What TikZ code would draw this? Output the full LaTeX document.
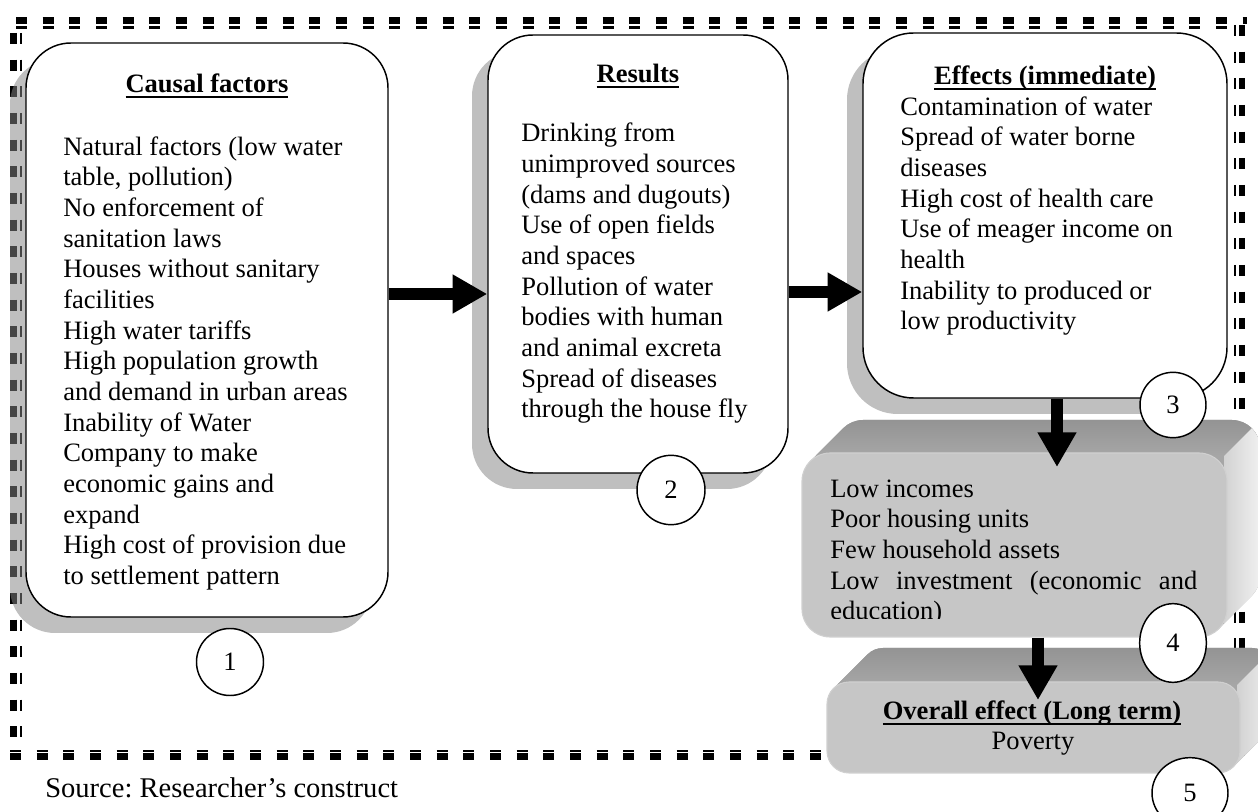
\documentclass[tikz,border=0pt]{standalone}
\usepackage{fontspec}
\setmainfont{Liberation Serif}
\usetikzlibrary{arrows.meta,fit,shapes.geometric,shadows}
\frenchspacing

\definecolor{shadowgray}{rgb}{0.52,0.52,0.52}
\definecolor{frontgray}{HTML}{C6C6C6}
\definecolor{frontedge}{HTML}{D0D0D0}
\definecolor{topdark}{HTML}{939393}
\definecolor{toplight}{HTML}{A6A6A6}
\definecolor{sidedark}{HTML}{D2D2D2}
\definecolor{sidelight}{HTML}{F2F2F2}

% heavy underline that ignores descenders
\newcommand\ulined[1]{\setbox0\hbox{#1}\rlap{\rule[-3.8pt]{\wd0}{1.9pt}}\box0}

% extruded faces (top and right) of a slab: x1 y1 x2 y2 radius(pt) depth(px)
\newcommand\slabfaces[6]{%
  \pgfmathsetmacro\rpx{#5/0.75}%
  \pgfmathsetmacro\px{#3-0.293*\rpx}%
  \pgfmathsetmacro\py{#2+0.293*\rpx}%
  \begin{scope}
    \clip[rounded corners=#5] \foreach \s in {0,...,#6} { (#1+\s,#2-\s) rectangle (#3+\s,#4-\s) };
    \fill[toplight] (#1-5,#2-#6-5) rectangle (#3+#6+5,#4+5);
    \shade[top color=topdark, bottom color=toplight] (#1-5,#2-#6-1) rectangle (#3+#6+5,#2+2);
    \clip (\px-300,\py+300) -- (\px+300,\py-300) -- (\px+300,\py+300) -- cycle;
    \shade[left color=sidedark, right color=sidelight] (#3-3,#2-#6-2) rectangle (#3+#6+2,#4+2);
  \end{scope}}

\begin{document}
\begin{tikzpicture}[x=0.75pt, y=-0.75pt,
  txt/.style={inner sep=0pt, align=left, font=\fontsize{19.9pt}{23pt}\selectfont},
  ttl/.style={inner sep=0pt, font=\fontsize{19.9pt}{23pt}\selectfont\bfseries},
  card/.style={draw=black, line width=1.1pt, fill=white, inner sep=0pt, rounded corners=#1,
    drop shadow={shadow xshift=-12pt, shadow yshift=-12pt, fill=shadowgray, opacity=0.52}},
  slab/.style={draw=frontedge, line width=0.8pt, fill=frontgray, inner sep=0pt, rounded corners=#1},
  numc/.style={ellipse, draw=black, line width=1.1pt, fill=white, inner sep=0pt,
    font=\fontsize{19.9pt}{23pt}\selectfont},
  bigarrow/.style={line width=8.6pt, -{Triangle[length=26pt, width=27.5pt]}},
  dashA/.style={line width=4.9pt, dash pattern=on 8.25pt off 11.75pt},
  dashB/.style={line width=1.9pt, dash pattern=on 8.25pt off 11.75pt}]

\useasboundingbox (0,0) rectangle (1258,812);

% double dashed frame (heavy outside, light inside)
\draw[dashA] (16,20.5) -- (1247,20.5);
\draw[dashB] (16,27.5) -- (1235,27.5);
\draw[dashA] (13.5,33) -- (13.5,760);
\draw[dashB] (21,33) -- (21,752);
\draw[dashA] (1242,25) -- (1242,760);
\draw[dashB] (1235,25) -- (1235,752);
\draw[dashA] (10,756.5) -- (1240,756.5);
\draw[dashB] (10,751) -- (1235,751);

% rounded cards
\node[card=33.75pt, fit={(26,43) (388,617)}] (b1) {};
\node[card=33.75pt, fit={(488,35) (788,473)}] (b2) {};
\node[card=38pt, fit={(863,33) (1227,398)}] (b3) {};

% multi-line texts are placed by the baseline of their last line
\node[ttl, anchor=base] (h1) at (207,93) {\ulined{Causal factors}};
\node[txt, anchor=base west] (t1) at (63,584.4) {Natural factors (low water\\table, pollution)\\No enforcement of\\sanitation laws\\Houses without sanitary\\facilities\\High water tariffs\\High population growth\\and demand in urban areas\\Inability of Water\\Company to make\\economic gains and\\expand\\High cost of provision due\\to settlement pattern};

\node[ttl, anchor=base] (h2) at (638,83) {\ulined{Results}};
\node[txt, anchor=base west] (t2) at (521,418) {Drinking from\\unimproved sources\\(dams and dugouts)\\Use of open fields\\and spaces\\Pollution of water\\bodies with human\\and animal excreta\\Spread of diseases\\through the house fly};

\node[ttl, anchor=base] (h3) at (1045,85) {\ulined{Effects (immediate)}};
\node[txt, anchor=base west] (t3) at (900,329.7) {Contamination of water\\Spread of water borne\\diseases\\High cost of health care\\Use of meager income on\\health\\Inability to produced or\\low productivity};

% bevelled slabs
\slabfaces{802}{453}{1227}{637}{21pt}{33}
\node[slab=21pt, fit={(802,453) (1227,637)}] (b4) {};
\begin{scope}
  \clip (800,440) rectangle (1230,619);
  \node[txt, anchor=base west] (t4) at (830,619.7) {Low incomes\\Poor housing units\\Few household assets\\\makebox[275.25pt][s]{Low investment (economic and}\\education)};
\end{scope}

\slabfaces{827}{682}{1240}{773}{16.5pt}{34}
\node[slab=16.5pt, fit={(827,682) (1240,773)}] (b5) {};
\node[ttl, anchor=base] (h5) at (1032,720) {\ulined{Overall effect (Long term)}};
\node[txt, anchor=base] (t5) at (1033,750) {Poverty};

% connectors
\coordinate (r12) at (0,294);
\coordinate (r23) at (0,292);
\coordinate (t34) at (1057,467);
\coordinate (t45) at (1038,700);
\draw[bigarrow] (b1.east |- r12) -- (b2.west |- r12);
\draw[bigarrow] (b2.east |- r23) -- (b3.west |- r23);
\draw[bigarrow] (b3.south -| t34) -- (t34);
\draw[bigarrow] (b4.south -| t45) -- (t45);

% stage numbers
\node[numc, minimum width=50.25pt, minimum height=50.25pt] (c1) at (230,662) {1};
\node[numc, minimum width=51pt, minimum height=52pt] (c2) at (671,490) {2};
\node[numc, minimum width=49.5pt, minimum height=49pt] (c3) at (1173,405) {3};
\node[numc, minimum width=50pt, minimum height=59pt] (c4) at (1173,643) {4};
\node[numc, minimum width=57pt, minimum height=53pt] (c5) at (1190,793) {5};

\node[inner sep=0pt, font=\fontsize{21.4pt}{25pt}\selectfont, anchor=base west] (src) at (45,798) {Source: Researcher’s construct};
\end{tikzpicture}
\end{document}
